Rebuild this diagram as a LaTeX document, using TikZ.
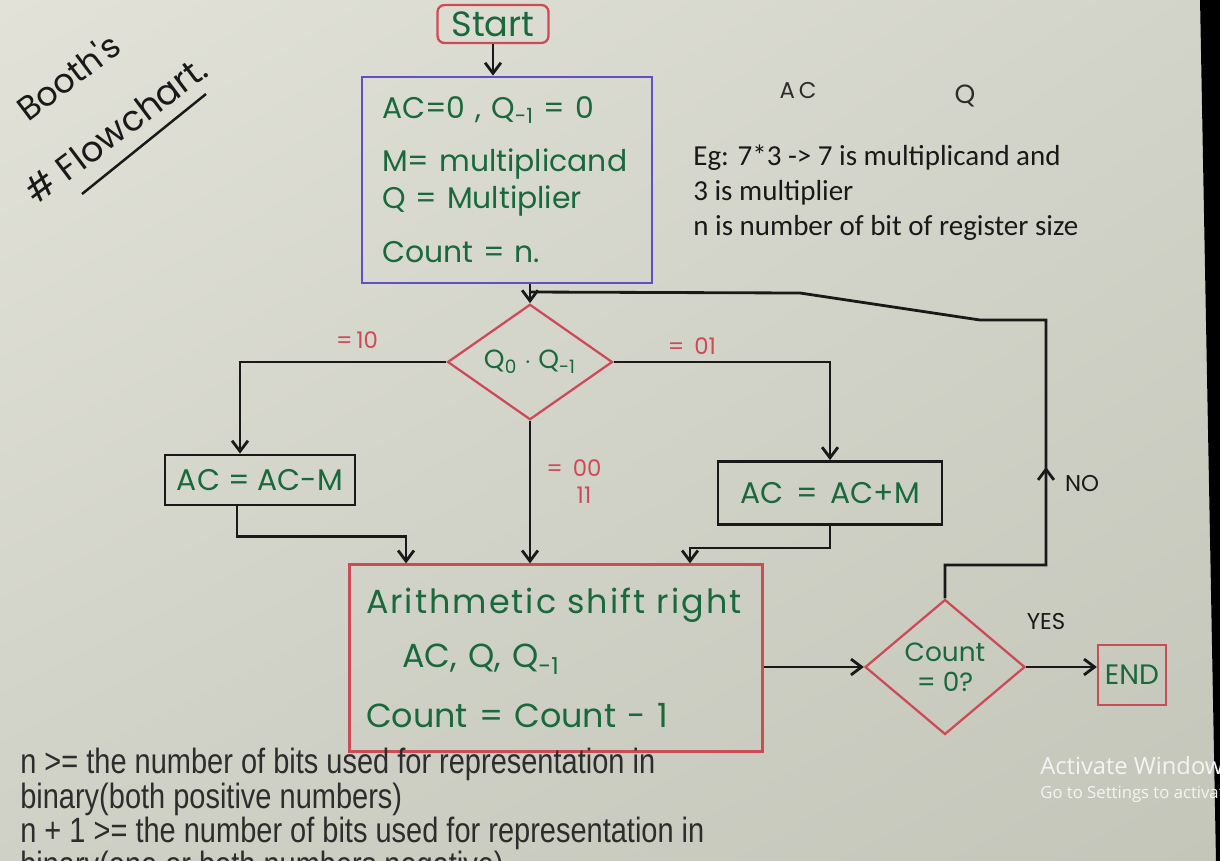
\documentclass[tikz,border=0pt]{standalone}
\usepackage{fontspec}
\setmainfont{Liberation Sans}
\newfontfamily\hand{Poppins}
\newfontfamily\calib{Carlito}
\newfontfamily\winfont{Open Sans}
\usetikzlibrary{shapes.geometric,arrows.meta,shadings}
\definecolor{paperA}{RGB}{226,226,216}
\definecolor{paperB}{RGB}{196,198,186}
\definecolor{inkgreen}{RGB}{25,105,60}
\definecolor{inkred}{RGB}{205,75,85}
\definecolor{inkblue}{RGB}{95,80,200}
\definecolor{ink}{RGB}{25,25,25}
\definecolor{overlay}{RGB}{45,45,45}
\newcommand\subs[1]{\textsubscript{#1}}

\begin{document}
\begin{tikzpicture}[x=0.02cm,y=-0.02cm,
  box/.style={draw=ink,line width=1.6pt,inner sep=0pt,text=inkgreen,
    font=\hand\fontsize{17}{20}\selectfont},
  redbox/.style={box,draw=inkred,line width=1.3pt},
  decision/.style={diamond,draw=inkred,line width=1.3pt,inner sep=0pt,
    text=inkgreen,align=center,font=\hand\fontsize{15}{17}\selectfont},
  line/.style={draw=ink,line width=1.6pt},
  arr/.style={line,-{Straight Barb[length=6pt,width=9pt]}},
  cond/.style={text=inkred,inner sep=0pt,font=\hand\fontsize{13}{15}\selectfont},
  answer/.style={text=ink,inner sep=0pt,font=\hand\fontsize{13}{15}\selectfont},
  note/.style={anchor=north west,align=left,inner sep=0pt}]

% paper
\useasboundingbox (0,0) rectangle (1220,860);
\clip (0,0) rectangle (1220,860);
\shade[upper left=paperA,upper right=paperB!50!paperA,lower left=paperB!60!paperA,
  lower right=paperB] (0,0) rectangle (1220,860);
\fill[black] (1200,-2) -- (1222,-2) -- (1222,862) -- (1216,862) -- cycle;

% title
\node[rotate=37,text=ink,font=\hand\fontsize{19}{22}\selectfont] (booth) at (68,76) {Booth's};
\node[rotate=37,text=ink,font=\hand\fontsize{20}{24}\selectfont] (flow) at (116,130) {\# Flowchart.};
\draw[line,line width=1.4pt] (82,194) -- (206,94);

% boxes
\node[redbox,rounded corners=4pt,minimum width=2.22cm,minimum height=0.76cm,
  font=\hand\fontsize{20}{24}\selectfont] (start) at (493,24) {Start};
\node[box,draw=inkblue,minimum width=5.8cm,minimum height=4.12cm,align=left,
  text width=5cm] (init) at (507,180)
  {AC=0 , Q\subs{-1} = 0\\[10pt] M= multiplicand\\[1pt] Q = Multiplier\\[11pt] Count = n.};
\node[decision,minimum width=3.3cm,minimum height=2.22cm] (d1) at (530,362)
  {Q\subs{0} $\cdot$ Q\subs{-1}};
\node[box,minimum width=3.8cm,minimum height=1cm] (acm) at (260,480) {AC = AC-M};
\node[box,minimum width=4.48cm,minimum height=1.26cm] (acp) at (830,493) {AC \,=\, AC+M};
\node[redbox,minimum width=8.26cm,minimum height=3.74cm,align=left,text width=7.6cm,
  font=\hand\fontsize{19}{23}\selectfont] (asr) at (556,658)
  {{\addfontfeature{LetterSpace=6}Arithmetic shift right}\\[8pt]
   \hspace{0.72cm}AC, Q, Q\subs{-1}\\[11pt] Count = Count - 1};
\node[decision,minimum width=3.2cm,minimum height=2.7cm] (d2) at (945,667) {Count\\= 0?};
\node[redbox,minimum width=1.36cm,minimum height=1.2cm,
  font=\hand\fontsize{16}{19}\selectfont] (end) at (1132,675) {END};

% connectors
\coordinate (join) at (530,292);
\coordinate (noturn) at (1046,565);
\coordinate (noup) at (1046,320);
\draw[arr] (start) -- (start |- init.north);
\draw[arr] (d1.north |- init.south) -- (d1.north);
\draw[line] (d2.north) |- (noturn) -- (noup) -- (980,320) -- (800,293) -- (join);
\draw[arr] (noturn) -- (1046,467);
\draw[arr] (d1.west) -| ([xshift=-0.4cm]acm.north);
\draw[arr] (d1.east) -| (acp.north);
\draw[arr] (d1.south) -- (d1.south |- asr.north);
\draw[arr] ([xshift=-0.46cm]acm.south) -- ++(0,30) -| ([xshift=-3cm]asr.north);
\draw[arr] (acp.south) -- ++(0,22) -| ([xshift=2.68cm]asr.north);
\draw[arr] (asr.east |- d2.west) -- (d2.west);
\draw[arr] (d2.east) -- (end.west |- d2.east);

% labels
\node[cond] (c10) at (357,340) {=\,10};
\node[cond] (c01) at (692,346) {= \,01};
\node[cond] (c00) at (574,468) {= \,00};
\node[cond] (c11) at (584,495) {11};
\node[answer] (yes) at (1046,622) {YES};
\node[answer] (no) at (1082,484) {NO};
\node[text=overlay,inner sep=0pt,font=\hand\fontsize{13}{15}\selectfont] (ac) at (798,90) {A\,C};
\node[text=overlay,inner sep=0pt,font=\hand\fontsize{15}{17}\selectfont] (q) at (965,96) {Q};

% notes
\node[note,text=ink,font=\calib\fontsize{16.5}{19.9}\selectfont] (eg) at (693,145)
  {Eg: 7*3 -> 7 is multiplicand and\\3 is multiplier\\n is number of bit of register size};
\node[note,text=overlay,xscale=0.825,font=\fontsize{20}{19.5}\selectfont] (bits) at (20,748)
  {n >= the number of bits used for representation in\\
   binary(both positive numbers)\\
   n + 1 >= the number of bits used for representation in\\
   binary(one or both numbers negative)};
\node[anchor=base west,inner sep=0pt,text=white!82!paperB,font=\winfont\fontsize{13.5}{16}\selectfont]
  (act) at (1040,774) {Activate Windows};
\node[anchor=base west,inner sep=0pt,text=white!82!paperB,font=\winfont\fontsize{9.5}{12}\selectfont]
  (set) at (1040,798) {Go to Settings to activate Windows.};
\end{tikzpicture}
\end{document}
